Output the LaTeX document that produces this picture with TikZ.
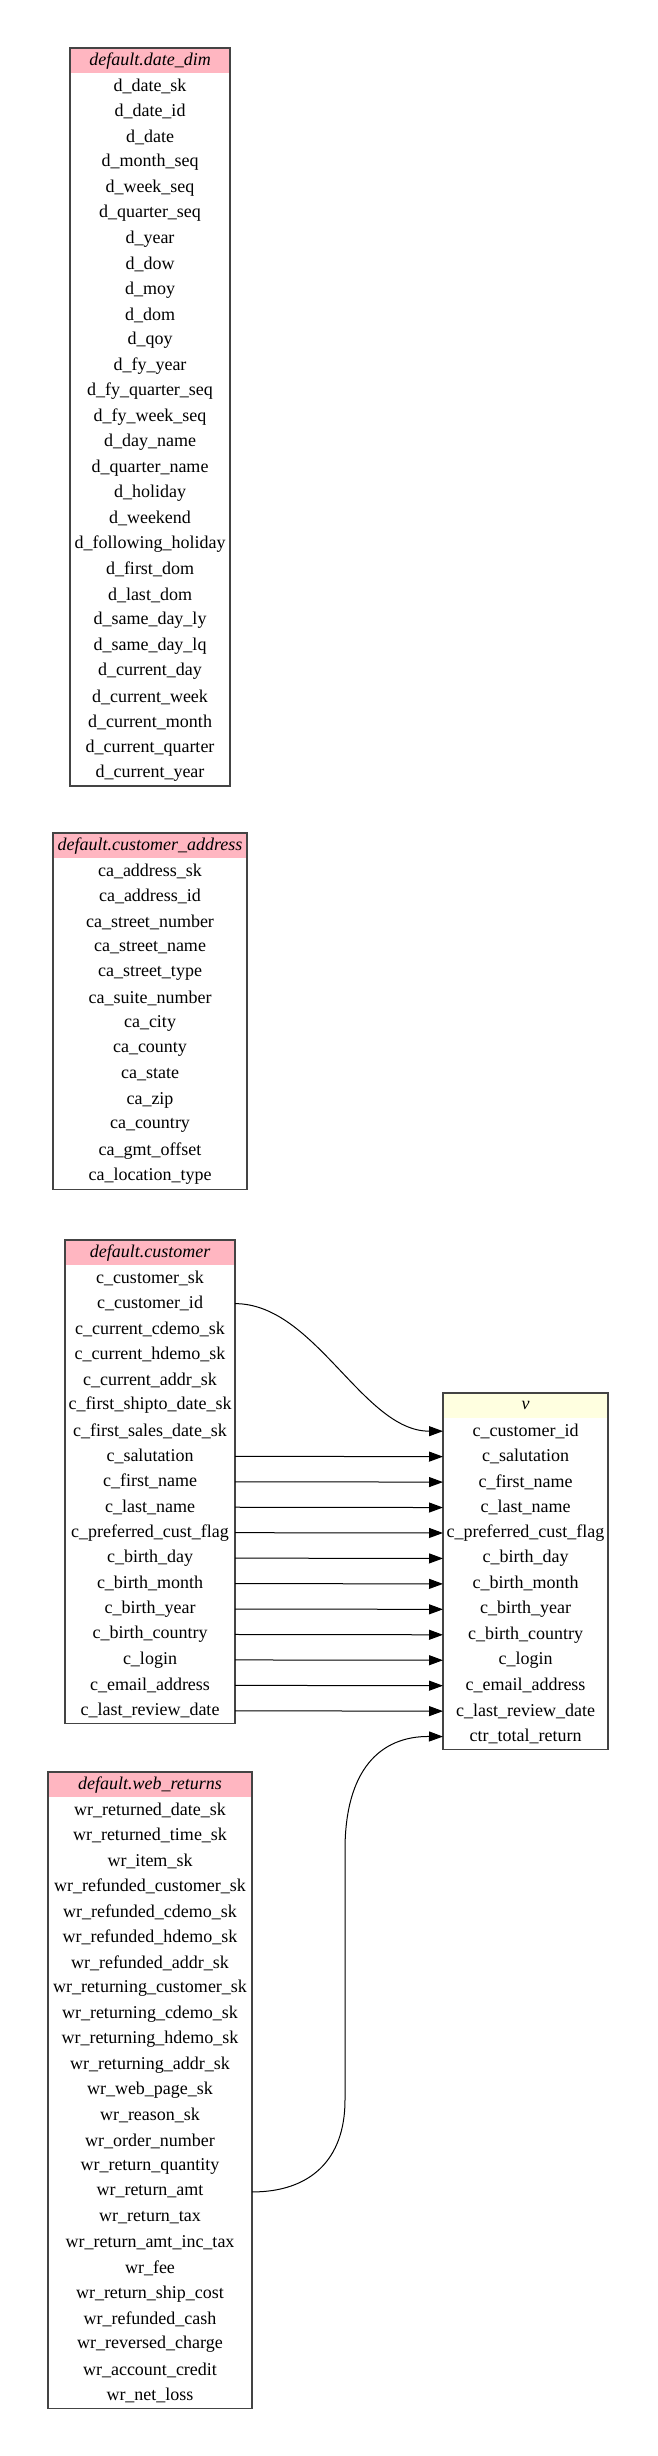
\documentclass[tikz,border=0pt]{standalone}
\usepackage{fontspec}
\setmainfont{Liberation Serif}
\usetikzlibrary{arrows.meta}
\usetikzlibrary{positioning}
\definecolor{headpink}{HTML}{FFB6C1}
\definecolor{headyellow}{HTML}{FFFFE0}
\definecolor{tblgray}{HTML}{444444}
\tikzset{
  field/.style={rectangle, inner sep=0pt, outer sep=0pt, minimum height=25.45pt, font=\fontsize{18pt}{21pt}\selectfont},
  tblhead/.style={field, fill=headpink, anchor=north, font=\fontsize{18pt}{21pt}\selectfont\itshape},
  viewhead/.style={tblhead, fill=headyellow},
  tblframe/.style={draw=tblgray, line width=1.3pt},
  fk/.style={black, line width=1pt, -{Triangle[length=14pt,width=10pt]}},
}
\begin{document}
\begin{tikzpicture}[node distance=0pt]
\useasboundingbox (0pt,0pt) rectangle (657pt,-2456pt);
%% default.date_dim
\begin{scope}[every node/.append style={minimum width=160pt}]
\node (dd_0) at (150pt,-48pt) [tblhead] {default.date\_dim};
  \node (dd_1) [field,below=of dd_0] {d\_date\_sk};
  \node (dd_2) [field,below=of dd_1] {d\_date\_id};
  \node (dd_3) [field,below=of dd_2] {d\_date};
  \node (dd_4) [field,below=of dd_3] {d\_month\_seq};
  \node (dd_5) [field,below=of dd_4] {d\_week\_seq};
  \node (dd_6) [field,below=of dd_5] {d\_quarter\_seq};
  \node (dd_7) [field,below=of dd_6] {d\_year};
  \node (dd_8) [field,below=of dd_7] {d\_dow};
  \node (dd_9) [field,below=of dd_8] {d\_moy};
  \node (dd_10) [field,below=of dd_9] {d\_dom};
  \node (dd_11) [field,below=of dd_10] {d\_qoy};
  \node (dd_12) [field,below=of dd_11] {d\_fy\_year};
  \node (dd_13) [field,below=of dd_12] {d\_fy\_quarter\_seq};
  \node (dd_14) [field,below=of dd_13] {d\_fy\_week\_seq};
  \node (dd_15) [field,below=of dd_14] {d\_day\_name};
  \node (dd_16) [field,below=of dd_15] {d\_quarter\_name};
  \node (dd_17) [field,below=of dd_16] {d\_holiday};
  \node (dd_18) [field,below=of dd_17] {d\_weekend};
  \node (dd_19) [field,below=of dd_18] {d\_following\_holiday};
  \node (dd_20) [field,below=of dd_19] {d\_first\_dom};
  \node (dd_21) [field,below=of dd_20] {d\_last\_dom};
  \node (dd_22) [field,below=of dd_21] {d\_same\_day\_ly};
  \node (dd_23) [field,below=of dd_22] {d\_same\_day\_lq};
  \node (dd_24) [field,below=of dd_23] {d\_current\_day};
  \node (dd_25) [field,below=of dd_24] {d\_current\_week};
  \node (dd_26) [field,below=of dd_25] {d\_current\_month};
  \node (dd_27) [field,below=of dd_26] {d\_current\_quarter};
  \node (dd_28) [field,below=of dd_27] {d\_current\_year};
\end{scope}
\draw [tblframe] (dd_0.north west) rectangle (dd_28.south east);
%% default.customer_address
\begin{scope}[every node/.append style={minimum width=194pt}]
\node (ca_0) at (150pt,-833pt) [tblhead] {default.customer\_address};
  \node (ca_1) [field,below=of ca_0] {ca\_address\_sk};
  \node (ca_2) [field,below=of ca_1] {ca\_address\_id};
  \node (ca_3) [field,below=of ca_2] {ca\_street\_number};
  \node (ca_4) [field,below=of ca_3] {ca\_street\_name};
  \node (ca_5) [field,below=of ca_4] {ca\_street\_type};
  \node (ca_6) [field,below=of ca_5] {ca\_suite\_number};
  \node (ca_7) [field,below=of ca_6] {ca\_city};
  \node (ca_8) [field,below=of ca_7] {ca\_county};
  \node (ca_9) [field,below=of ca_8] {ca\_state};
  \node (ca_10) [field,below=of ca_9] {ca\_zip};
  \node (ca_11) [field,below=of ca_10] {ca\_country};
  \node (ca_12) [field,below=of ca_11] {ca\_gmt\_offset};
  \node (ca_13) [field,below=of ca_12] {ca\_location\_type};
\end{scope}
\draw [tblframe] (ca_0.north west) rectangle (ca_13.south east);
%% default.customer
\begin{scope}[every node/.append style={minimum width=170pt}]
\node (cu_0) at (150pt,-1240pt) [tblhead] {default.customer};
  \node (cu_1) [field,below=of cu_0] {c\_customer\_sk};
  \node (cu_2) [field,below=of cu_1] {c\_customer\_id};
  \node (cu_3) [field,below=of cu_2] {c\_current\_cdemo\_sk};
  \node (cu_4) [field,below=of cu_3] {c\_current\_hdemo\_sk};
  \node (cu_5) [field,below=of cu_4] {c\_current\_addr\_sk};
  \node (cu_6) [field,below=of cu_5] {c\_first\_shipto\_date\_sk};
  \node (cu_7) [field,below=of cu_6] {c\_first\_sales\_date\_sk};
  \node (cu_8) [field,below=of cu_7] {c\_salutation};
  \node (cu_9) [field,below=of cu_8] {c\_first\_name};
  \node (cu_10) [field,below=of cu_9] {c\_last\_name};
  \node (cu_11) [field,below=of cu_10] {c\_preferred\_cust\_flag};
  \node (cu_12) [field,below=of cu_11] {c\_birth\_day};
  \node (cu_13) [field,below=of cu_12] {c\_birth\_month};
  \node (cu_14) [field,below=of cu_13] {c\_birth\_year};
  \node (cu_15) [field,below=of cu_14] {c\_birth\_country};
  \node (cu_16) [field,below=of cu_15] {c\_login};
  \node (cu_17) [field,below=of cu_16] {c\_email\_address};
  \node (cu_18) [field,below=of cu_17] {c\_last\_review\_date};
\end{scope}
\draw [tblframe] (cu_0.north west) rectangle (cu_18.south east);
%% default.web_returns
\begin{scope}[every node/.append style={minimum width=204pt}]
\node (wr_0) at (150pt,-1772pt) [tblhead] {default.web\_returns};
  \node (wr_1) [field,below=of wr_0] {wr\_returned\_date\_sk};
  \node (wr_2) [field,below=of wr_1] {wr\_returned\_time\_sk};
  \node (wr_3) [field,below=of wr_2] {wr\_item\_sk};
  \node (wr_4) [field,below=of wr_3] {wr\_refunded\_customer\_sk};
  \node (wr_5) [field,below=of wr_4] {wr\_refunded\_cdemo\_sk};
  \node (wr_6) [field,below=of wr_5] {wr\_refunded\_hdemo\_sk};
  \node (wr_7) [field,below=of wr_6] {wr\_refunded\_addr\_sk};
  \node (wr_8) [field,below=of wr_7] {wr\_returning\_customer\_sk};
  \node (wr_9) [field,below=of wr_8] {wr\_returning\_cdemo\_sk};
  \node (wr_10) [field,below=of wr_9] {wr\_returning\_hdemo\_sk};
  \node (wr_11) [field,below=of wr_10] {wr\_returning\_addr\_sk};
  \node (wr_12) [field,below=of wr_11] {wr\_web\_page\_sk};
  \node (wr_13) [field,below=of wr_12] {wr\_reason\_sk};
  \node (wr_14) [field,below=of wr_13] {wr\_order\_number};
  \node (wr_15) [field,below=of wr_14] {wr\_return\_quantity};
  \node (wr_16) [field,below=of wr_15] {wr\_return\_amt};
  \node (wr_17) [field,below=of wr_16] {wr\_return\_tax};
  \node (wr_18) [field,below=of wr_17] {wr\_return\_amt\_inc\_tax};
  \node (wr_19) [field,below=of wr_18] {wr\_fee};
  \node (wr_20) [field,below=of wr_19] {wr\_return\_ship\_cost};
  \node (wr_21) [field,below=of wr_20] {wr\_refunded\_cash};
  \node (wr_22) [field,below=of wr_21] {wr\_reversed\_charge};
  \node (wr_23) [field,below=of wr_22] {wr\_account\_credit};
  \node (wr_24) [field,below=of wr_23] {wr\_net\_loss};
\end{scope}
\draw [tblframe] (wr_0.north west) rectangle (wr_24.south east);
%% v
\begin{scope}[every node/.append style={minimum width=165pt}]
\node (v_0) at (525.5pt,-1393pt) [viewhead] {v};
  \node (v_1) [field,below=of v_0] {c\_customer\_id};
  \node (v_2) [field,below=of v_1] {c\_salutation};
  \node (v_3) [field,below=of v_2] {c\_first\_name};
  \node (v_4) [field,below=of v_3] {c\_last\_name};
  \node (v_5) [field,below=of v_4] {c\_preferred\_cust\_flag};
  \node (v_6) [field,below=of v_5] {c\_birth\_day};
  \node (v_7) [field,below=of v_6] {c\_birth\_month};
  \node (v_8) [field,below=of v_7] {c\_birth\_year};
  \node (v_9) [field,below=of v_8] {c\_birth\_country};
  \node (v_10) [field,below=of v_9] {c\_login};
  \node (v_11) [field,below=of v_10] {c\_email\_address};
  \node (v_12) [field,below=of v_11] {c\_last\_review\_date};
  \node (v_13) [field,below=of v_12] {ctr\_total\_return};
\end{scope}
\draw [tblframe] (v_0.north west) rectangle (v_13.south east);
%% lineage
  \draw [fk] (cu_2.east) ..controls +(80pt,0pt) and +(-80pt,0pt) .. (v_1.west);
  \draw [fk] (cu_8.east) -- (v_2.west);
  \draw [fk] (cu_9.east) -- (v_3.west);
  \draw [fk] (cu_10.east) -- (v_4.west);
  \draw [fk] (cu_11.east) -- (v_5.west);
  \draw [fk] (cu_12.east) -- (v_6.west);
  \draw [fk] (cu_13.east) -- (v_7.west);
  \draw [fk] (cu_14.east) -- (v_8.west);
  \draw [fk] (cu_15.east) -- (v_9.west);
  \draw [fk] (cu_16.east) -- (v_10.west);
  \draw [fk] (cu_17.east) -- (v_11.west);
  \draw [fk] (cu_18.east) -- (v_12.west);
  \draw [fk] (wr_16.east) ..controls (310pt,-2192pt) and (345pt,-2160pt) .. (345pt,-2100pt)
    ..controls (345pt,-1990pt) and (345pt,-1960pt) .. (345pt,-1850pt)
    ..controls (345pt,-1770pt) and (380pt,-1736pt) .. (v_13.west);
%
\end{tikzpicture}
\end{document}
